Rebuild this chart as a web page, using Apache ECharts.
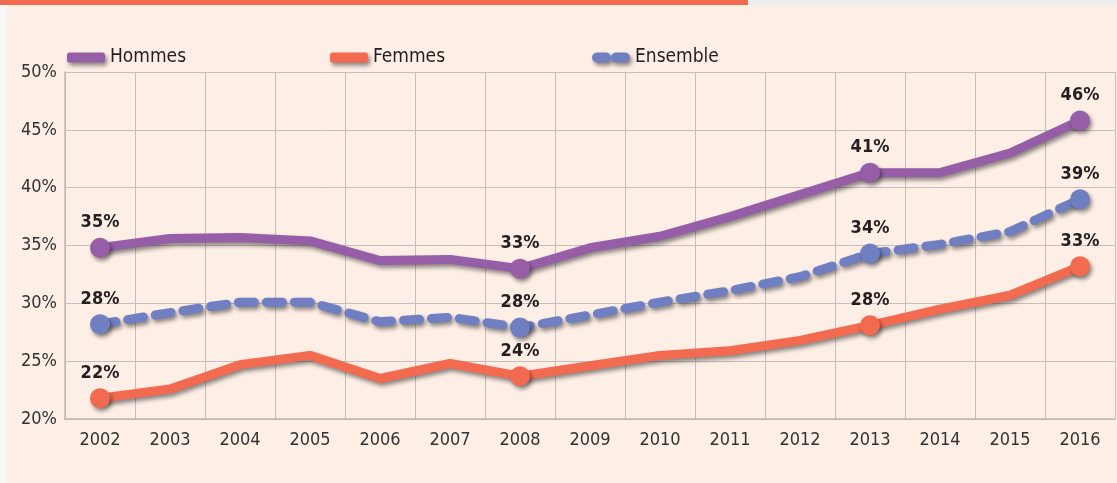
<!DOCTYPE html>
<html>
<head>
<meta charset="utf-8">
<script src="https://cdn.jsdelivr.net/npm/echarts@6/dist/echarts.min.js"></script>
<style>
  html, body { margin: 0; padding: 0; background: #fff; }
  #main { width: 1117px; height: 483px; }
</style>
</head>
<body>
<div id="main"></div>
<script>
  var years = ['2002','2003','2004','2005','2006','2007','2008','2009','2010','2011','2012','2013','2014','2015','2016'];
  var hommes = [34.8, 35.6, 35.7, 35.4, 33.7, 33.8, 33.0, 34.8, 35.8, 37.5, 39.4, 41.3, 41.3, 43.0, 45.8];
  var femmes = [21.8, 22.6, 24.7, 25.5, 23.5, 24.8, 23.7, 24.6, 25.5, 25.9, 26.8, 28.1, 29.5, 30.7, 33.2];
  var ensemble = [28.2, 29.2, 30.1, 30.1, 28.4, 28.8, 27.9, 29.0, 30.1, 31.1, 32.3, 34.3, 35.1, 36.2, 39.0];
  var labelled = ['2002', '2008', '2013', '2016'];
  var yTicks = [20, 25, 30, 35, 40, 45, 50];

  var font = '"Liberation Sans Narrow", "DejaVu Sans Condensed", sans-serif';
  var shadow = { shadowColor: 'rgba(0,0,0,0.45)', shadowBlur: 4, shadowOffsetX: 2, shadowOffsetY: 3 };

  function points(values) {
    return values.map(function (v, i) {
      var on = labelled.indexOf(years[i]) >= 0;
      return {
        value: v,
        symbolSize: on ? 20 : 0,
        label: { show: on }
      };
    });
  }

  function line(name, values, color, dashed) {
    return {
      name: name,
      type: 'line',
      data: points(values),
      symbol: 'circle',
      showAllSymbol: true,
      z: dashed ? 3 : 4,
      itemStyle: Object.assign({ color: color }, shadow),
      lineStyle: Object.assign({
        color: color,
        width: 9,
        type: dashed ? [16, 12] : 'solid',
        cap: 'round',
        join: 'round'
      }, shadow),
      label: {
        position: 'top',
        distance: 6,
        formatter: function (p) { return Math.round(p.value) + '%'; },
        fontFamily: font,
        fontWeight: 'bold',
        fontSize: 18,
        color: '#231f20'
      },
      emphasis: { disabled: true }
    };
  }

  function legend(name, left, icon) {
    return {
      data: [{ name: name, icon: icon }],
      left: left,
      top: 48,
      itemWidth: 38,
      itemHeight: 10,
      itemGap: 0,
      padding: 0,
      textStyle: { fontFamily: font, fontSize: 19, color: '#231f20' },
      itemStyle: shadow,
      selectedMode: false
    };
  }

  var chart = echarts.init(document.getElementById('main'));
  chart.setOption({
    backgroundColor: '#fdeee6',
    animation: false,
    graphic: [
      { type: 'rect', shape: { x: 0, y: 0, width: 7, height: 483 }, style: { fill: '#f7f7f7' } },
      { type: 'rect', shape: { x: 0, y: 0, width: 1117, height: 5 }, style: { fill: '#eeeeee' } },
      { type: 'rect', shape: { x: 0, y: 0, width: 748, height: 5 }, style: { fill: '#f26b50' } }
    ],
    legend: [
      legend('Hommes', 67, 'roundRect'),
      legend('Femmes', 330, 'roundRect'),
      legend('Ensemble', 592, 'path://M5,0 H14 A5,5 0 0 1 14,10 H5 A5,5 0 0 1 5,0 Z M24,0 H33 A5,5 0 0 1 33,10 H24 A5,5 0 0 1 24,0 Z')
    ],
    grid: { left: 65, right: 2, top: 72, bottom: 64 },
    xAxis: {
      type: 'category',
      data: years,
      boundaryGap: true,
      axisLine: { lineStyle: { color: '#bdb8b6', width: 1.5 } },
      axisTick: { show: false },
      axisLabel: { fontFamily: font, fontSize: 18, color: '#333', margin: 12 },
      splitLine: { show: true, lineStyle: { color: '#c4bfbd', width: 1 } }
    },
    yAxis: {
      type: 'value',
      min: yTicks[0],
      max: yTicks[yTicks.length - 1],
      interval: 5,
      axisLine: { show: true, lineStyle: { color: '#bdb8b6', width: 1.5 } },
      axisTick: { show: false },
      axisLabel: { fontFamily: font, fontSize: 18, color: '#333', margin: 8, formatter: '{value}%' },
      splitLine: { lineStyle: { color: '#c4bfbd', width: 1 } }
    },
    series: [
      line('Ensemble', ensemble, '#6f7fc2', true),
      line('Hommes', hommes, '#975ea8', false),
      line('Femmes', femmes, '#f26b50', false)
    ]
  });
</script>
</body>
</html>
